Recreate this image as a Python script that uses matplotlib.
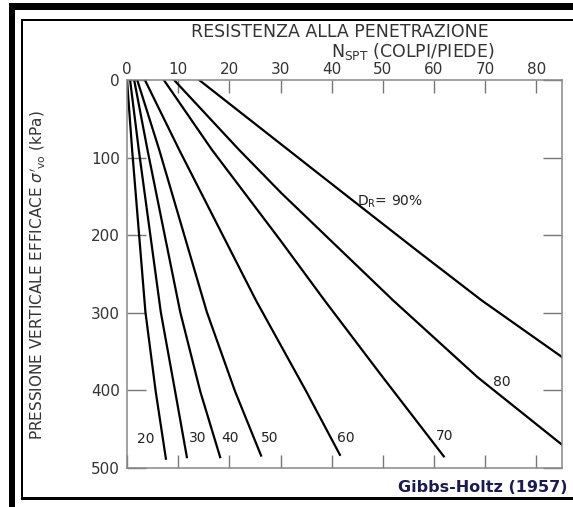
import matplotlib
matplotlib.use('Agg')
import matplotlib.pyplot as plt
from matplotlib.patches import Rectangle

W, H = 573, 507

# relative density curves (Gibbs & Holtz 1957)
dr_levels = [20, 30, 40, 50, 60, 70, 80, 90]
sigma_20 = [0, 90, 299, 401, 488]
nspt_20 = [0.0, 1.0, 3.6, 5.6, 7.6]
sigma_30 = [0, 90, 299, 401, 486]
nspt_30 = [0.6, 2.3, 6.6, 9.4, 11.7]
sigma_40 = [0, 90, 299, 401, 486]
nspt_40 = [1.4, 4.0, 10.4, 14.3, 18.2]
sigma_50 = [0, 90, 299, 401, 484]
nspt_50 = [2.0, 6.3, 15.6, 21.1, 26.2]
sigma_60 = [0, 90, 284, 401, 483]
nspt_60 = [3.5, 10.2, 25.2, 35.0, 41.6]
sigma_70 = [0, 90, 206, 284, 378, 485]
nspt_70 = [7.2, 16.6, 29.9, 38.6, 49.4, 61.9]
sigma_80 = [0, 90, 146, 284, 383, 470]
nspt_80 = [9.2, 21.9, 30.2, 52.0, 68.5, 85.0]
sigma_90 = [0, 90, 151, 219, 284, 357]
nspt_90 = [14.1, 31.5, 43.3, 56.5, 69.3, 85.0]

curves = [(nspt_20, sigma_20), (nspt_30, sigma_30), (nspt_40, sigma_40),
          (nspt_50, sigma_50), (nspt_60, sigma_60), (nspt_70, sigma_70),
          (nspt_80, sigma_80), (nspt_90, sigma_90)]

# label anchors (N, sigma)
label_text = ['20', '30', '40', '50', '60', '70', '80']
label_n = [3.7, 13.9, 20.1, 27.9, 42.8, 62.1, 73.3]
label_s = [463, 461, 461, 461, 461, 459, 389]

x_ticks = [0, 10, 20, 30, 40, 50, 60, 70, 80]
y_ticks = [0, 100, 200, 300, 400, 500]

fig = plt.figure(figsize=(W / 100, H / 100), dpi=100)
ax = fig.add_axes([127 / W, 1 - 468 / H, 435 / W, 388 / H])

for n, s in curves:
    ax.plot(n, s, color='black', lw=1.6)

for t, n, s in zip(label_text, label_n, label_s):
    ax.text(n, s, t, ha='center', va='center', fontsize=10, color='#222222')
ax.text(45, 157, r'D$_{\rm R}$= 90%', ha='left', va='center', fontsize=10, color='#222222')

ax.set_xlim(0, 85)
ax.set_ylim(500, 0)
ax.set_xticks(x_ticks)
ax.set_yticks(y_ticks)
ax.tick_params(axis='x', direction='in', top=True, bottom=True, labeltop=True,
               labelbottom=False, length=9.5, width=1, color='#777777',
               labelsize=11, labelcolor='#333333', pad=2)
ax.tick_params(axis='y', direction='in', left=True, right=True, length=14,
               width=1, color='#777777', labelsize=11, labelcolor='#333333', pad=5)
for sp in ax.spines.values():
    sp.set_color('#888888')
    sp.set_linewidth(1.1)

ax.set_ylabel(r"PRESSIONE VERTICALE EFFICACE $\sigma'_{\rm vo}$ (kPa)", fontsize=11,
              color='#333333')
ax.yaxis.set_label_coords(-(127 - 47) / 435, 1 - (275 - 80) / 388)

fig.text(340 / W, 1 - 37 / H, 'RESISTENZA ALLA PENETRAZIONE', ha='center', va='baseline',
         fontsize=12.5, color='#333333')
fig.text(413 / W, 1 - 57 / H, r'N$_{\rm SPT}$ (COLPI/PIEDE)', ha='center', va='baseline',
         fontsize=12.5, color='#333333')
fig.text(568 / W, 1 - 488 / H, 'Gibbs-Holtz (1957)', ha='right', va='center',
         fontsize=11.5, fontweight='bold', color='#1b1b4d')


def frame(x0, y0, x1, y1):
    fig.add_artist(Rectangle((x0 / W, 1 - y1 / H), (x1 - x0) / W, (y1 - y0) / H,
                             transform=fig.transFigure, color='black', lw=0))


frame(8.5, 3, 573, 10)
frame(8.5, 3, 14.5, 507)
frame(21, 19, 573, 21)
frame(21, 19, 23, 499)
frame(21, 496.5, 573, 499.5)

fig.savefig('out.png', dpi=100)
